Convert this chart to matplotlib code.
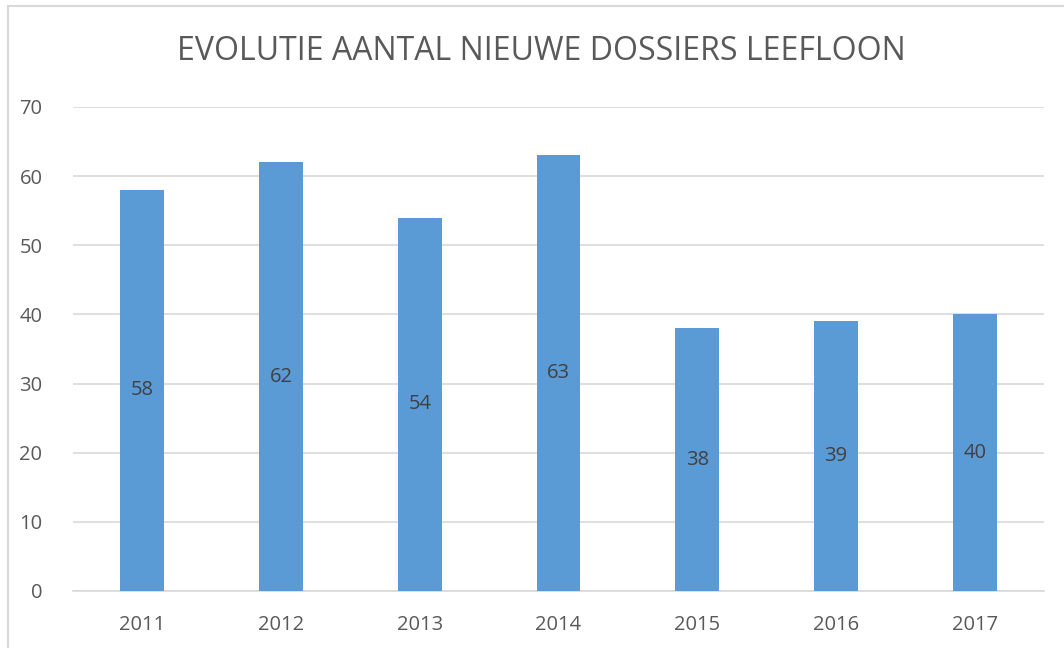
import matplotlib
matplotlib.use("Agg")
import matplotlib.pyplot as plt
from matplotlib.patches import Rectangle

years = ["2011", "2012", "2013", "2014", "2015", "2016", "2017"]
values = [58, 62, 54, 63, 38, 39, 40]
yticks = [0, 10, 20, 30, 40, 50, 60, 70]
title = "EVOLUTIE AANTAL NIEUWE DOSSIERS LEEFLOON"

plt.rcParams['font.family'] = ['Open Sans', 'DejaVu Sans']
txt = '#595959'
grid = '#D9D9D9'
bar_c = '#5B9BD5'

fig = plt.figure(figsize=(10.64, 6.48), dpi=100)
fig.patches.append(Rectangle((8/1064, -0.1), 1.2, (648-6)/648 + 0.1, transform=fig.transFigure,
                             fill=False, edgecolor='#D9D9D9', linewidth=1.5))
ax = fig.add_axes([73/1064, 57/648, (1044-73)/1064, (591-107)/648])

x = range(len(years))
bars = ax.bar(x, values, width=0.317, color=bar_c, zorder=3)
for xi, v in zip(x, values):
    ax.text(xi, v/2, str(v), ha='center', va='center', fontsize=14.5, color='#404040', zorder=4)

ax.set_xlim(-0.5, len(years) - 0.5)
ax.set_ylim(0, 70)
ax.set_yticks(yticks)
ax.set_xticks(list(x))
ax.set_xticklabels(years)
ax.yaxis.grid(True, color=grid, linewidth=1.2, zorder=0)
ax.tick_params(axis='both', length=0, labelsize=14.5, colors=txt)
ax.tick_params(axis='y', pad=22)
ax.tick_params(axis='x', pad=17)
for s in ['top', 'right', 'left']:
    ax.spines[s].set_visible(False)
ax.spines['bottom'].set_color(grid)
ax.spines['bottom'].set_linewidth(1.2)

fig.text((175+907)/2/1064, 1 - 51/648, title, ha='center', va='center', fontsize=23, color=txt)

fig.savefig('out.png', dpi=100)
